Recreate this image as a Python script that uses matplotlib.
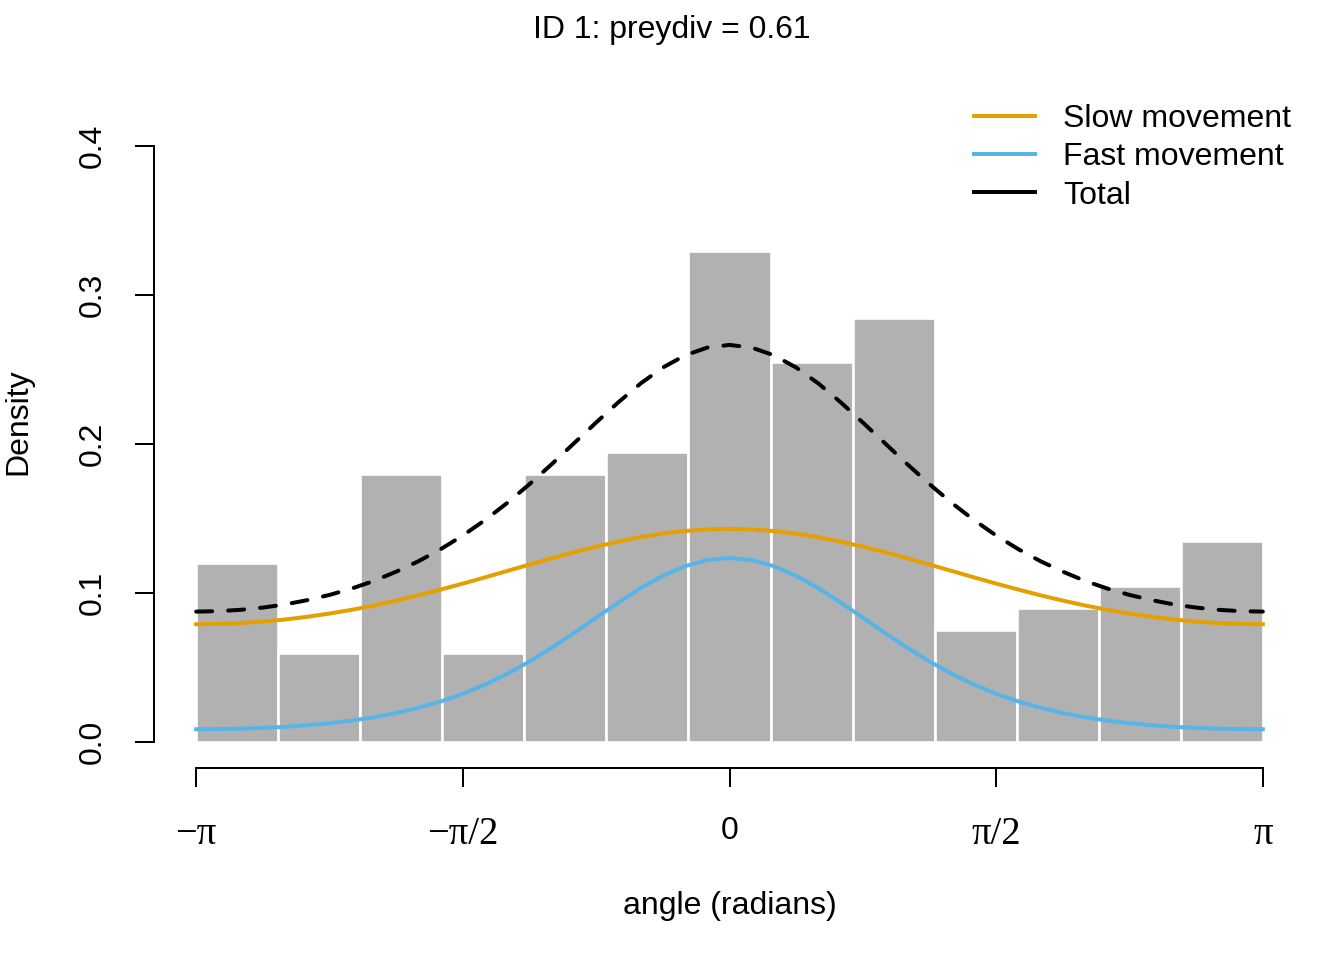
import matplotlib
matplotlib.use("Agg")
import matplotlib.pyplot as plt
from matplotlib.lines import Line2D
import numpy as np

plt.rcParams['font.family'] = ['Liberation Sans', 'DejaVu Sans']
plt.rcParams['font.size'] = 12

# histogram: 13 equal bins over [-pi, pi], density heights
bin_heights = [0.120, 0.060, 0.180, 0.060, 0.180, 0.195, 0.330,
               0.255, 0.285, 0.075, 0.090, 0.105, 0.135]

# fitted curves, read at steps of pi/24 from -pi to pi
curve_steps = list(range(-24, 25))
slow_dens = [0.0790, 0.0792, 0.0798, 0.0808, 0.0822, 0.0840, 0.0862, 0.0887, 0.0916,
             0.0949, 0.0984, 0.1023, 0.1063, 0.1105, 0.1148, 0.1191, 0.1233, 0.1274,
             0.1311, 0.1345, 0.1375, 0.1399, 0.1416, 0.1427, 0.1431,
             0.1427, 0.1416, 0.1399, 0.1375, 0.1345, 0.1311, 0.1274, 0.1233, 0.1191,
             0.1148, 0.1105, 0.1063, 0.1023, 0.0984, 0.0949, 0.0916, 0.0887, 0.0862,
             0.0840, 0.0822, 0.0808, 0.0798, 0.0792, 0.0790]
fast_dens = [0.0085, 0.0086, 0.0089, 0.0094, 0.0101, 0.0112, 0.0125, 0.0143, 0.0165,
             0.0194, 0.0229, 0.0271, 0.0323, 0.0385, 0.0457, 0.0540, 0.0632, 0.0731,
             0.0834, 0.0936, 0.1032, 0.1115, 0.1180, 0.1221, 0.1235,
             0.1221, 0.1180, 0.1115, 0.1032, 0.0936, 0.0834, 0.0731, 0.0632, 0.0540,
             0.0457, 0.0385, 0.0323, 0.0271, 0.0229, 0.0194, 0.0165, 0.0143, 0.0125,
             0.0112, 0.0101, 0.0094, 0.0089, 0.0086, 0.0085]
total_dens = [0.0875, 0.0878, 0.0887, 0.0902, 0.0923, 0.0952, 0.0987, 0.1030, 0.1081,
              0.1143, 0.1213, 0.1294, 0.1386, 0.1490, 0.1605, 0.1731, 0.1865, 0.2005,
              0.2145, 0.2281, 0.2407, 0.2514, 0.2596, 0.2648, 0.2666,
              0.2648, 0.2596, 0.2514, 0.2407, 0.2281, 0.2145, 0.2005, 0.1865, 0.1731,
              0.1605, 0.1490, 0.1386, 0.1294, 0.1213, 0.1143, 0.1081, 0.1030, 0.0987,
              0.0952, 0.0923, 0.0902, 0.0887, 0.0878, 0.0875]

series_labels = ['Slow movement', 'Fast movement', 'Total']
series_colors = ['#E69F00', '#56B4E9', 'black']

x_ticks = [-np.pi, -np.pi / 2, 0, np.pi / 2, np.pi]
x_ticklabels = ['\u2212\u03c0', '\u2212\u03c0/2', '0', '\u03c0/2', '\u03c0']
y_ticks = [0.0, 0.1, 0.2, 0.3, 0.4]

W, H = 1344, 960
fig = plt.figure(figsize=(7, 5), dpi=192)
ax = fig.add_axes([153.5 / W, 1 - 767.5 / H, 1152 / W, 691.5 / H])

edges = np.linspace(-np.pi, np.pi, len(bin_heights) + 1)
ax.bar(edges[:-1], bin_heights, width=np.diff(edges), align='edge',
       color='#B1B1B1', edgecolor='white', linewidth=1.0, zorder=1)

xs = np.array(curve_steps) * np.pi / 24
ax.plot(xs, slow_dens, color=series_colors[0], lw=1.5, zorder=3)
ax.plot(xs, fast_dens, color=series_colors[1], lw=1.5, zorder=3)
ax.plot(xs, total_dens, color=series_colors[2], lw=1.5, ls=(0, (4, 4)),
        dash_capstyle='round', zorder=3)

ax.set_xlim(-np.pi * 1.08, np.pi * 1.08)
ax.set_ylim(-0.0172, 0.4472)

for s in ['top', 'right']:
    ax.spines[s].set_visible(False)
ax.spines['left'].set_bounds(0, 0.4)
ax.spines['bottom'].set_bounds(-np.pi, np.pi)
ax.spines['left'].set_linewidth(0.75)
ax.spines['bottom'].set_linewidth(0.75)

ax.set_yticks(y_ticks)
ax.set_yticklabels(['%.1f' % v for v in y_ticks], rotation=90, va='center')
ax.set_xticks(x_ticks)
ax.set_xticklabels(x_ticklabels)
ax.tick_params(axis='both', direction='out', length=7.1, width=0.75, labelsize=12)
ax.tick_params(axis='y', pad=10)
ax.tick_params(axis='x', pad=11)
for lab in ax.get_xticklabels():
    if '\u03c0' in lab.get_text():
        lab.set_fontfamily(['Liberation Serif', 'DejaVu Serif'])
        lab.set_fontsize(14.5)

ax.set_xlabel('angle (radians)')
ax.xaxis.set_label_coords(0.5, -0.178)
ax.set_ylabel('Density')
ax.yaxis.set_label_coords(-0.104, 0.5)

fig.text(0.5, 1 - 38 / H, 'ID 1: preydiv = 0.61', ha='center', va='baseline',
         fontsize=12)

handles = [Line2D([], [], color=c, lw=1.5) for c in series_colors]
ax.legend(handles, series_labels, loc='upper right', frameon=False,
          bbox_to_anchor=(1291 / W, 1 - 104 / H), bbox_transform=fig.transFigure,
          borderaxespad=0, borderpad=0, handlelength=1.9, handletextpad=0.875,
          labelspacing=0.26, fontsize=12)

fig.savefig('out.png', dpi=192)
